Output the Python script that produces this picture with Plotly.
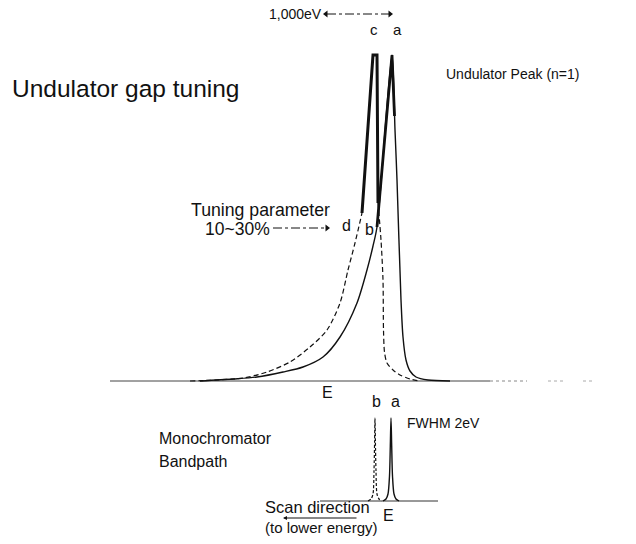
import plotly.graph_objects as go

# ---- Undulator spectrum (energy in arbitrary px-like units, intensity above baseline) ----
# curve "a" (solid) : tail -> b -> peak a -> steep high-energy edge
a_energy = [200, 233, 257, 283, 303, 323, 340, 357, 367, 373, 377, 392, 395, 397, 401, 403, 406, 410, 416, 428, 450]
a_intensity = [0, 2, 4, 9, 14, 24, 44, 78, 111, 135, 154, 326, 251, 201, 81, 44, 21, 10, 4, 1, 0]
# thick top part of peak a
a_top_energy = [377, 392, 394.5]
a_top_intensity = [154, 326, 265]

# curve "d" (dashed) low-energy tail up to d
d_left_energy = [190, 243, 267, 290, 310, 327, 340, 348, 355, 362]
d_left_intensity = [0, 3, 9, 19, 34, 51, 78, 111, 138, 168]
# thick peak "c"
c_energy = [362, 373, 377, 378]
c_intensity = [168, 326, 326, 178]
# dashed high-energy edge of shifted curve
d_right_energy = [378, 381, 383, 383.5, 384.5, 387, 393, 400, 410, 420]
d_right_intensity = [178, 141, 101, 51, 29, 18, 11, 6, 2, 0]

# baseline
base_energy = [110, 490]
base_dotted_energy = [490, 527]

# ---- Monochromator bandpass (FWHM 2 eV) ----
mono_a_energy = [383, 386, 388, 389.5, 390.3, 391, 391.7, 392.5, 394, 396, 399]
mono_a_intensity = [0, 2, 7, 25, 55, 83, 55, 25, 7, 2, 0]
mono_b_energy = [368, 371, 373, 374, 374.6, 375, 375.4, 376, 377, 379, 382]
mono_b_intensity = [0, 2, 7, 30, 60, 83, 60, 30, 7, 2, 0]
mono_base_energy = [320, 438]

FONT = "Liberation Sans, Arial, Helvetica, sans-serif"
INK = "#111111"

fig = go.Figure()

def line(x, y, width=1.3, dash="solid", color=INK, yaxis="y"):
    fig.add_trace(go.Scatter(x=x, y=y, mode="lines", yaxis=yaxis,
                             line=dict(color=color, width=width, dash=dash, shape="spline", smoothing=0.8),
                             hoverinfo="skip", showlegend=False))

def straight(x, y, width=1.3, dash="solid", color=INK, yaxis="y"):
    fig.add_trace(go.Scatter(x=x, y=y, mode="lines", yaxis=yaxis,
                             line=dict(color=color, width=width, dash=dash),
                             hoverinfo="skip", showlegend=False))

# baselines
straight(base_energy, [0, 0], width=1, color="#444444")
straight(base_dotted_energy, [0, 0], width=1, dash="dot", color="#888888")
straight([548, 563], [0, 0], width=1, dash="dot", color="#aaaaaa")
straight([583, 593], [0, 0], width=1, dash="dot", color="#aaaaaa")

# undulator curves
line(d_left_energy, d_left_intensity, width=1.2, dash="5px,3px")
line(d_right_energy, d_right_intensity, width=1.2, dash="5px,3px")
straight(c_energy, c_intensity, width=3)
line(a_energy, a_intensity, width=1.4)
straight(a_top_energy, a_top_intensity, width=2.8)

# monochromator
straight(mono_base_energy, [0, 0], width=1, color="#333333", yaxis="y2")
line(mono_b_energy, mono_b_intensity, width=1.2, dash="3px,2px", yaxis="y2")
line(mono_a_energy, mono_a_intensity, width=1.4, yaxis="y2")

# dash-dot arrows
straight([327, 389], [367, 367], width=1, dash="dashdot")
fig.add_trace(go.Scatter(x=[326, 390], y=[367, 367], mode="markers",
                         marker=dict(symbol=["triangle-left", "triangle-right"], size=6, color=INK),
                         hoverinfo="skip", showlegend=False))
straight([273, 326], [153, 153], width=1, dash="dashdot")
fig.add_trace(go.Scatter(x=[327], y=[153], mode="markers",
                         marker=dict(symbol="triangle-right", size=6, color=INK),
                         hoverinfo="skip", showlegend=False))

ann = []
def txt(s, x, y, size, anchor="center"):
    ann.append(dict(text=s, x=x, y=y, xref="x", yref="y", showarrow=False,
                    xanchor=anchor, yanchor="middle",
                    font=dict(family=FONT, size=size, color=INK)))

txt("1,000eV", 295, 367, 14)
txt("c", 374, 352, 15)
txt("a", 397, 352, 15)
txt("Undulator gap tuning", 10, 293, 24.5, "left")
txt("Undulator Peak (n=1)", 444, 307, 14, "left")
txt("Tuning parameter", 189, 171, 17.7, "left")
txt("10~30%", 203, 152, 17.5, "left")
txt("d", 346, 156, 16)
txt("b", 369, 152, 16)
txt("E", 327, -11, 16)
txt("b", 376, -20, 16)
txt("a", 395, -20, 16)
txt("FWHM 2eV", 405, -42, 14, "left")
txt("Monochromator", 157, -57, 16, "left")
txt("Bandpath", 157, -80, 16, "left")
txt("Scan direction", 263, -126, 16.5, "left")
txt("E", 388, -134, 16)
txt("(to lower energy)", 263, -146, 15, "left")

# scan direction arrow
ann.append(dict(x=283, y=-137, ax=358, ay=-137, xref="x", yref="y", axref="x", ayref="y",
                text="", showarrow=True, arrowhead=2, arrowsize=0.8, arrowwidth=1, arrowcolor=INK))

fig.update_layout(
    width=636, height=544,
    margin=dict(l=0, r=0, t=0, b=0),
    paper_bgcolor="white", plot_bgcolor="white",
    xaxis=dict(range=[0, 636], visible=False, fixedrange=True),
    yaxis=dict(range=[-163, 381], visible=False, fixedrange=True),
    yaxis2=dict(range=[-43, 501], visible=False, overlaying="y", fixedrange=True),
    annotations=ann,
    showlegend=False,
)

fig.write_html("out.html")
